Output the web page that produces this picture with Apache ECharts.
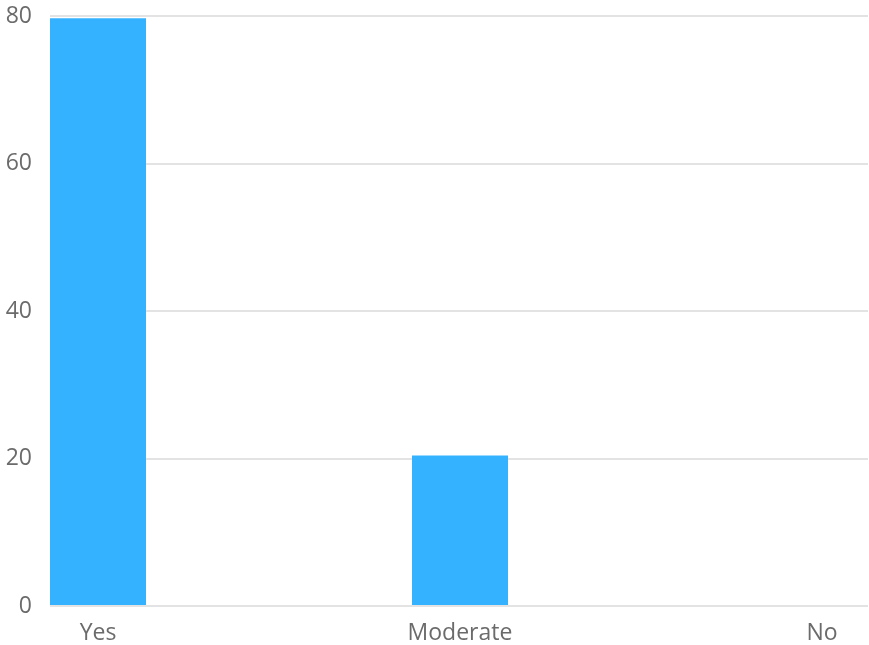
<!DOCTYPE html>
<html><head><meta charset="utf-8">
<script src="https://cdn.jsdelivr.net/npm/echarts@6/dist/echarts.min.js"></script>
<style>html,body{margin:0;padding:0;background:#fff}#c{width:869px;height:645px}</style>
</head><body><div id="c"></div>
<script>
const categories = ['Yes', 'Moderate', 'No'];
const values = [79.7, 20.3, 0];
const yTicks = [0, 20, 40, 60, 80];

const chart = echarts.init(document.getElementById('c'));
const font = '"Open Sans", sans-serif';
chart.setOption({
  animation: false,
  grid: [
    { left: 50, right: 1, top: 16, bottom: 39 },
    { left: 98, right: 47, top: 16, bottom: 39 }
  ],
  xAxis: [
    { gridIndex: 0, type: 'value', show: false, min: 0, max: 1 },
    { gridIndex: 1, type: 'category', data: categories, boundaryGap: false,
      axisLine: { show: false }, axisTick: { show: false },
      axisLabel: { color: '#6b6b6b', fontSize: 23, fontFamily: font, margin: 17 } }
  ],
  yAxis: [
    { gridIndex: 0, type: 'value', min: yTicks[0], max: yTicks[yTicks.length-1], interval: 20,
      axisLine: { show: false }, axisTick: { show: false },
      axisLabel: { color: '#6b6b6b', fontSize: 23, fontFamily: font, margin: 18 },
      splitLine: { lineStyle: { color: '#e3e3e3', width: 2 } } },
    { gridIndex: 1, type: 'value', min: 0, max: 80, show: false, splitLine: { show: false } }
  ],
  series: [{
    type: 'bar', xAxisIndex: 1, yAxisIndex: 1, data: values, barWidth: 96, clip: false,
    itemStyle: { color: '#35b2ff' }
  }]
});
</script></body></html>
